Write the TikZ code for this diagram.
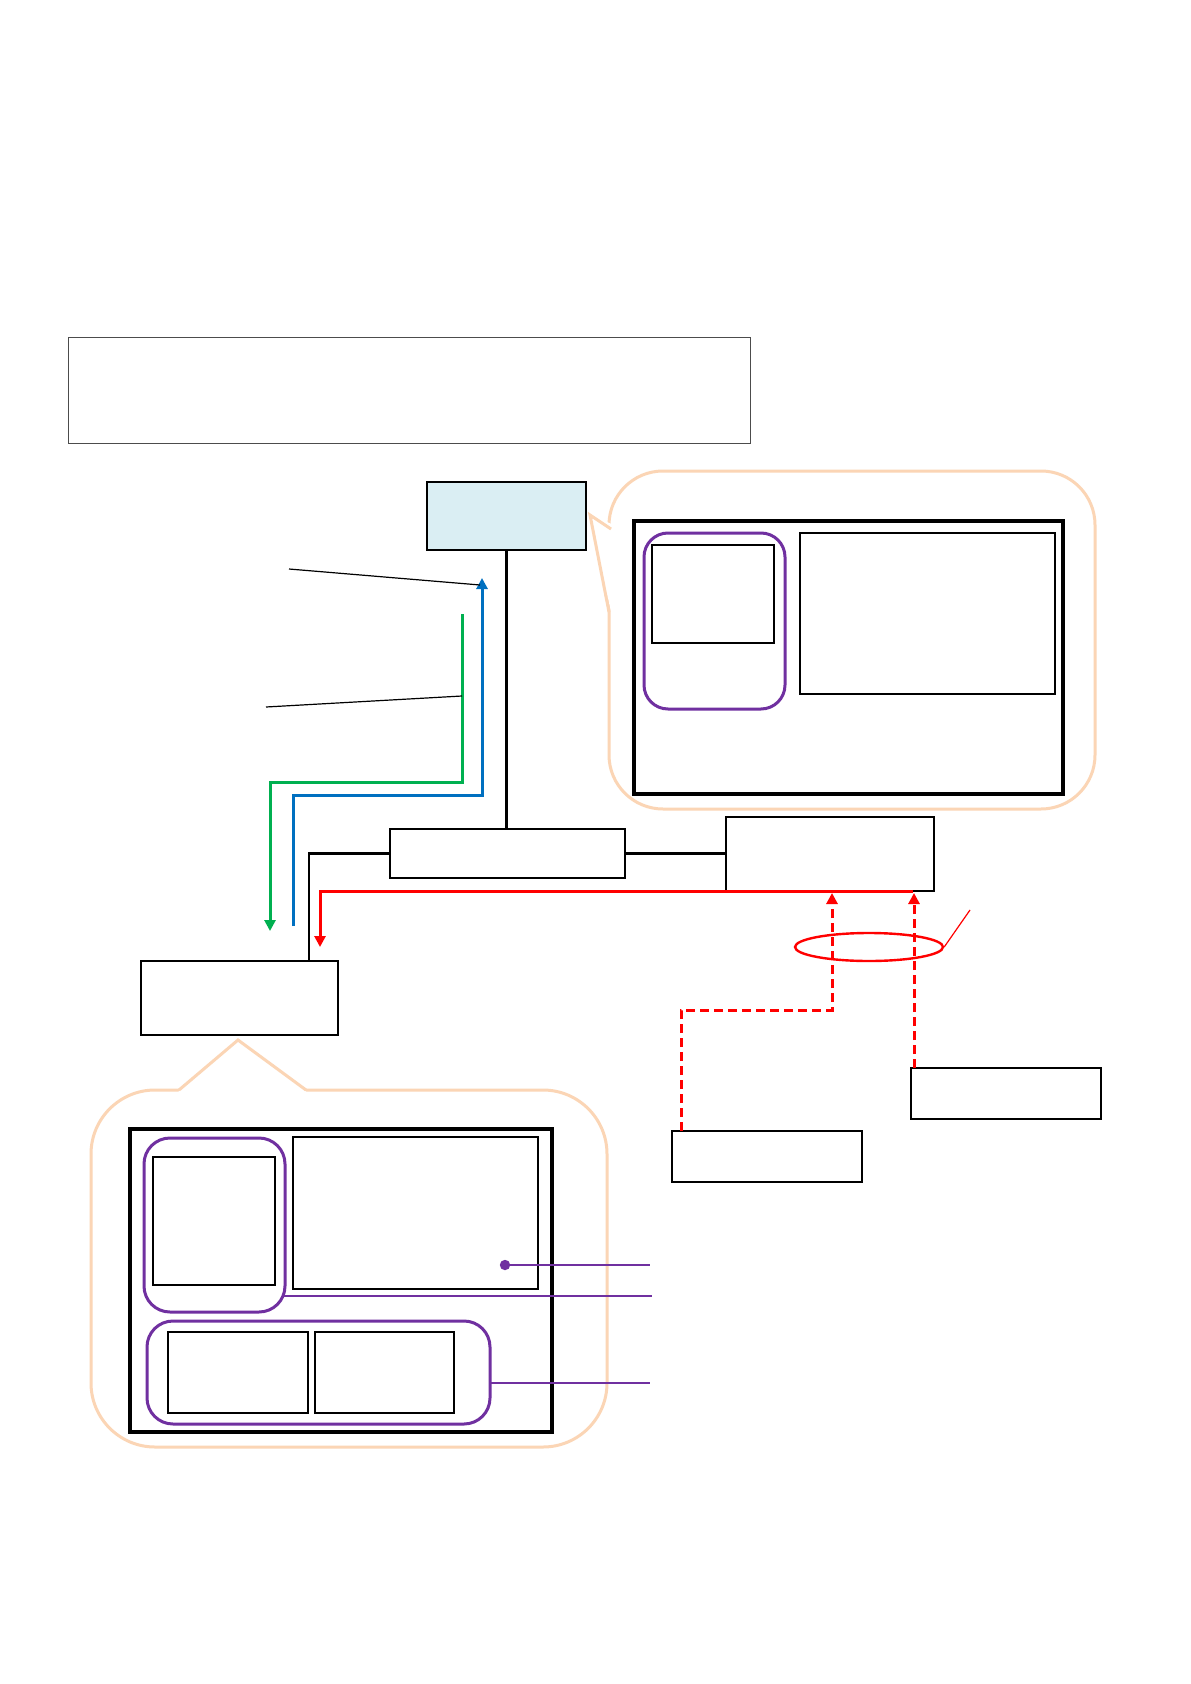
\documentclass[tikz,border=0pt]{standalone}
\usetikzlibrary{arrows.meta,fit,shapes.geometric}
\definecolor{callout}{HTML}{FBD5B5}
\definecolor{purp}{HTML}{7030A0}
\definecolor{lblue}{HTML}{DAEEF3}
\definecolor{grn}{HTML}{00B050}
\definecolor{blu}{HTML}{0070C0}
\definecolor{rd}{HTML}{FF0000}
\begin{document}
\begin{tikzpicture}[x=0.5pt,y=-0.5pt,
  box/.style={draw=black,line width=0.8pt,inner sep=0pt,outer sep=0pt},
  frame/.style={draw=black,line width=1.7pt,inner sep=0pt,outer sep=0pt},
  grp/.style={draw=purp,line width=1.5pt,rounded corners=12pt,inner sep=0pt,outer sep=0pt},
  bubble/.style={draw=callout,line width=1.5pt,fill=white},
  conn/.style={draw=black,line width=1.2pt},
  leader/.style={draw=black,line width=0.6pt},
  plink/.style={draw=purp,line width=1.3pt},
  flow/.style={line width=1.5pt},
  tipa/.style={-{Triangle[length=5.5pt,width=5.5pt]}},
]
\useasboundingbox (0,0) rectangle (1190,1684);
\fill[white] (0,0) rectangle (1190,1684);

% header box
\node[box,draw=black!70,line width=0.5pt,fit={(68,338) (750,444)}] (hdr) {};

% top callout bubble
\draw[bubble,rounded corners=27pt] (609,471) rectangle (1095,809);
\fill[white] (612,616) -- (589,514) -- (616,526) -- cycle;
\draw[callout,line width=1.5pt,line join=miter] (609,612) -- (590,515) -- (611,529);

% top callout content
\node[frame,fit={(634,521) (1063,794)}] (tframe) {};
\node[grp,rounded corners=12pt,fit={(644,533) (785,709)}] (tgrp) {};
\node[box,fit={(652,545) (774,643)}] (tsmall) {};
\node[box,fit={(800,533) (1055,694)}] (tbig) {};

% main nodes
\node[box,fill=lblue,line width=1pt,fit={(427,482) (586,550)}] (srv) {};
\node[box,line width=1pt,fit={(390,829) (625,878)}] (hub) {};
\node[box,line width=1pt,fit={(726,817) (934,891)}] (rbox) {};
\node[box,line width=1pt,fit={(141,961) (338,1035)}] (lbox) {};
\node[box,line width=1pt,fit={(672,1131) (862,1182)}] (b1) {};
\node[box,line width=1pt,fit={(911,1068) (1101,1119)}] (b2) {};

% black connectors
\draw[conn] (srv.south) -- (srv.south |- hub.north);
\draw[conn] (hub.east) -- (hub.east -| rbox.west);
\draw[conn] (hub.west) -| ([xshift=-14.5pt]lbox.north east);

% green and blue arrows
\coordinate (g0) at (462,614);
\coordinate (g1) at (270,782);
\coordinate (gend) at (270,931);
\draw[grn,flow,tipa] (g0) |- (g1) -- (gend);
\coordinate (bl0) at (293,926);
\coordinate (bl1) at (482,795);
\coordinate (blend) at (482,578);
\draw[blu,flow,tipa] (bl0) |- (bl1) -- (blend);

% leaders
\coordinate (la) at (289,569);
\coordinate (la2) at (480,585);
\draw[leader] (la) -- (la2);
\coordinate (lb) at (266,707);
\coordinate (lb2) at (462,696);
\draw[leader] (lb) -- (lb2);

% red line
\coordinate (redend) at (320,947);
\draw[rd,flow,tipa] ([xshift=-10.5pt]rbox.south east) -| (redend);

% red dashed
\coordinate (dA) at (832,1010);
\coordinate (dB) at (832,893);
\draw[rd,flow,dash pattern=on 4.5pt off 2.5pt,tipa] ([xshift=4.5pt]b1.north west) |- (dA) -- (dB);
\coordinate (dC) at (914,893);
\draw[rd,flow,dash pattern=on 4.5pt off 2.5pt,tipa] (b2.north west -| dC) -- (dC);

% ellipse
\node[draw=rd,ellipse,line width=1.2pt,minimum width=74pt,minimum height=14pt,inner sep=0pt] (ell) at (869,947) {};
\coordinate (elltag) at (970,910);
\draw[rd,line width=0.6pt] (ell.east) -- (elltag);

% bottom callout bubble
\draw[bubble,rounded corners=32pt] (91,1090) rectangle (607,1447);
\fill[white] (176,1094) -- (238,1038) -- (309,1094) -- cycle;
\draw[callout,line width=1.5pt,line join=miter] (179,1090) -- (238,1040) -- (306,1090);

% bottom callout content
\node[frame,fit={(130,1129) (552,1432)}] (bframe) {};
\node[grp,rounded corners=13pt,fit={(144,1138) (285,1312)}] (bgrp1) {};
\node[box,fit={(153,1157) (275,1285)}] (bsmall) {};
\node[box,fit={(293,1137) (538,1289)}] (bbig) {};
\node[grp,rounded corners=13pt,fit={(147,1321) (490,1424)}] (bgrp2) {};
\node[box,fit={(168,1332) (308,1413)}] (bc1) {};
\node[box,fit={(315,1332) (454,1413)}] (bc2) {};

% purple links
\coordinate (pd) at (505,1265);
\coordinate (pe1) at (650,1265);
\fill[purp] (pd) circle (2.6pt);
\draw[plink] (pd) -- (pe1);
\coordinate (pe2) at (652,1296);
\draw[plink] ([xshift=-1pt]bgrp1.east |- pe2) -- (pe2);
\coordinate (pe3) at (650,1383);
\draw[plink] (bgrp2.east |- pe3) -- (pe3);
\end{tikzpicture}
\end{document}
